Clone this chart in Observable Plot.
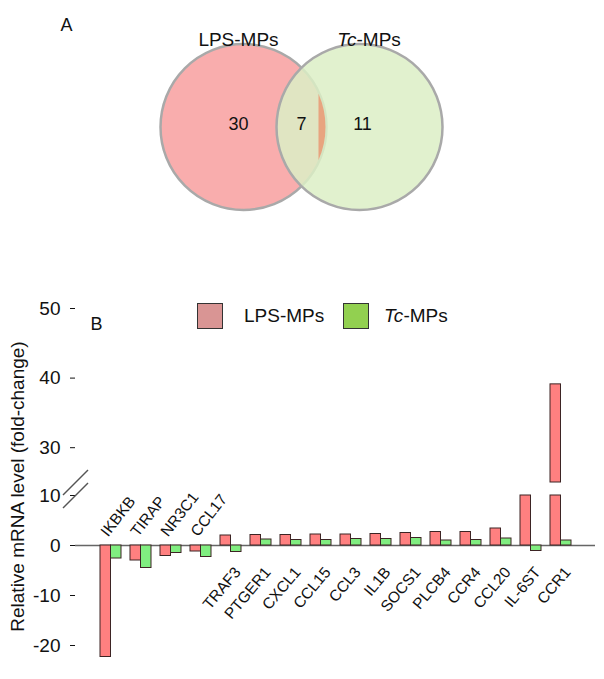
<!DOCTYPE html>
<html><head><meta charset="utf-8">
<script src="https://cdn.jsdelivr.net/npm/d3@7"></script>
<script src="https://cdn.jsdelivr.net/npm/@observablehq/plot@0.6"></script>
<style>
html,body{margin:0;padding:0;background:#fff;}
#wrap{position:relative;width:604px;height:679px;font-family:"Liberation Sans",Arial,sans-serif;overflow:hidden;}
#venn{position:absolute;left:0;top:0;}
#bars{position:absolute;left:0;top:230px;}
.leg{position:absolute;font-size:19px;line-height:1;color:#111;white-space:nowrap}
.sw{position:absolute;width:26px;height:26px;box-sizing:border-box;border:1.5px solid #333}
</style></head><body><div id="wrap"><div id="venn"></div><div id="bars"></div></div>
<script>
// ---- Panel A: Venn data ----
const vennSets = ["LPS-MPs", "Tc-MPs"];
const vennRegions = ["LPS-MPs", "both", "Tc-MPs"];
const vennCounts = [30, 7, 11];

// ---- Panel B: bar data ----
const genes = ["IKBKB","TIRAP","NR3C1","CCL17","TRAF3","PTGER1","CXCL1","CCL15","CCL3","IL1B","SOCS1","PLCB4","CCR4","CCL20","IL-6ST","CCR1"];
const lpsValues = [-22.3, -3.0, -2.1, -1.2, 2.0, 2.1, 2.1, 2.2, 2.2, 2.3, 2.5, 2.7, 2.7, 3.4, 10, 39.1];
const tcValues  = [-2.6, -4.5, -1.5, -2.3, -1.3, 1.2, 1.1, 1.1, 1.3, 1.3, 1.5, 1.0, 1.1, 1.4, -1.1, 1.0];
const series = ["LPS-MPs", "Tc-MPs"];
const yTicks = [-20, -10, 0, 10, 30, 40, 50];
const breakLow = 10, breakHigh = 25;
const yLabel = "Relative mRNA level (fold-change)";

const font = '"Liberation Sans", Arial, sans-serif';

// ---------- Venn ----------
const sliverSymbol = {draw(ctx) {
  const R = 82, c = 75, t = Math.acos(c / R);
  ctx.moveTo(c, -R * Math.sin(t));
  ctx.arc(0, 0, R, -t, t);
  ctx.closePath();
}};
const countDx = [-5, 0, 3];
const vennMarks = [
  Plot.dot([vennSets[0]], {x: d => d, r: 83, fill: "#f9adad", stroke: "#a9a9a9", strokeWidth: 2.5}),
  Plot.dot([vennSets[1]], {x: d => d, r: 83, fill: "#dcefc6", fillOpacity: 0.85, stroke: "#a9a9a9", strokeWidth: 2.5}),
  Plot.dot([vennSets[0]], {x: d => d, symbol: sliverSymbol, fill: "#e8a47f", stroke: "none"}),
  Plot.text(["A"], {frameAnchor: "top-left", textAnchor: "start", dx: 60, dy: -5, fontSize: 18}),
  Plot.text([vennSets[0]], {x: d => d, frameAnchor: "top", dx: -5, dy: 9, fontSize: 19}),
  Plot.text([vennSets[1].slice(0, 2)], {x: () => vennSets[1], frameAnchor: "top", dx: -3, dy: 9, textAnchor: "end", fontStyle: "italic", fontSize: 19}),
  Plot.text([vennSets[1].slice(2)], {x: () => vennSets[1], frameAnchor: "top", dx: -3, dy: 9, textAnchor: "start", fontSize: 19})
];
vennRegions.forEach((r, j) => {
  vennMarks.push(Plot.text([vennCounts[j]], {x: () => r, dx: countDx[j], dy: -2.5, fontSize: 18}));
});
const venn = Plot.plot({
  width: 604, height: 230, marginTop: 23, marginBottom: 0, marginLeft: 0, marginRight: 0,
  x: {type: "point", domain: vennRegions, range: [242, 359], padding: 0, axis: null},
  style: {fontFamily: font, fontSize: "19px", background: "white", color: "#111"},
  marks: vennMarks
});
document.getElementById("venn").appendChild(venn);

// ---------- Bars ----------
const rows = [];
genes.forEach((g, i) => {
  [[series[0], lpsValues[i]], [series[1], tcValues[i]]].forEach(([s, v]) => {
    if (v <= breakLow) rows.push({gene: g, series: s, y1: 0, y2: v});
    else {
      rows.push({gene: g, series: s, y1: 0, y2: breakLow});
      if (v > breakHigh) rows.push({gene: g, series: s, y1: breakHigh, y2: v});
    }
  });
});
const W = 604, H = 449, mL = 75, mR = 9, mT = 78, mB = 9;
const axisDx = mL - (mL + W - mR) / 2;
const slash = {draw(ctx) { ctx.moveTo(-12.5, 12.5); ctx.lineTo(12.5, -12.5); }};
const negGenes = genes.filter((g, i) => lpsValues[i] < 0);
const posGenes = genes.filter((g, i) => lpsValues[i] >= 0);

const bars = Plot.plot({
  width: W, height: H, marginLeft: mL, marginRight: mR, marginTop: mT, marginBottom: mB,
  style: {fontFamily: font, fontSize: "19px", background: "transparent", color: "#111"},
  x: {type: "band", domain: genes, range: [95, 575], paddingInner: 0.314, paddingOuter: 0, axis: null},
  y: {type: "linear", domain: [-25, breakLow, breakHigh, 50], range: [440, 265, 252, 78],
      ticks: yTicks, tickSize: 5, tickPadding: 10, tickFormat: d => String(d), label: null, line: false},
  marks: [
    Plot.ruleY([0], {stroke: "#666", strokeWidth: 1.5}),
    Plot.barY(rows.filter(r => r.series === series[0]), {x: "gene", y1: "y1", y2: "y2", fill: "#ff8080", stroke: "#3d2424", strokeWidth: 1, insetRight: 10.5}),
    Plot.barY(rows.filter(r => r.series === series[1]), {x: "gene", y1: "y1", y2: "y2", fill: "#80ee80", stroke: "#3d2424", strokeWidth: 1, insetLeft: 10.5}),
    Plot.ruleX([[-25, breakLow], [breakHigh, 50]], {y1: d => d[0], y2: d => d[1], dx: axisDx, stroke: "#666", strokeWidth: 1.5}),
    Plot.dot([breakLow, breakHigh], {y: d => d, frameAnchor: "left", symbol: slash, stroke: "#555", strokeWidth: 1.5, fill: "none"}),
    Plot.text(negGenes, {x: d => d, y: () => 0, rotate: -52, textAnchor: "start", lineAnchor: "bottom", dx: -3, dy: -8, fontSize: 15.5}),
    Plot.text(posGenes, {x: d => d, y: () => 0, rotate: -50, textAnchor: "end", lineAnchor: "top", dx: 2, dy: 20, fontSize: 15.5}),
    Plot.text(["B"], {frameAnchor: "top-left", textAnchor: "start", dx: 15, dy: 9, fontSize: 18}),
    Plot.text([yLabel], {frameAnchor: "left", textAnchor: "middle", rotate: -90, dx: -58, dy: -3, fontSize: 19})
  ]
});
document.getElementById("bars").appendChild(bars);

// ---------- Legend ----------
const legendColors = ["#d99594", "#92d050"];
const legendSwatchX = [197, 343], legendTextX = [244, 384];
const wrap = document.getElementById("wrap");
series.forEach((s, i) => {
  const sw = document.createElement("div");
  sw.className = "sw";
  sw.style.left = legendSwatchX[i] + "px"; sw.style.top = "303px"; sw.style.background = legendColors[i];
  wrap.appendChild(sw);
  const t = document.createElement("span");
  t.className = "leg";
  t.style.left = legendTextX[i] + "px"; t.style.top = "306px";
  if (s.startsWith("Tc")) { const it = document.createElement("i"); it.textContent = s.slice(0, 2); t.appendChild(it); t.appendChild(document.createTextNode(s.slice(2))); }
  else t.textContent = s;
  wrap.appendChild(t);
});
</script>
</body></html>
